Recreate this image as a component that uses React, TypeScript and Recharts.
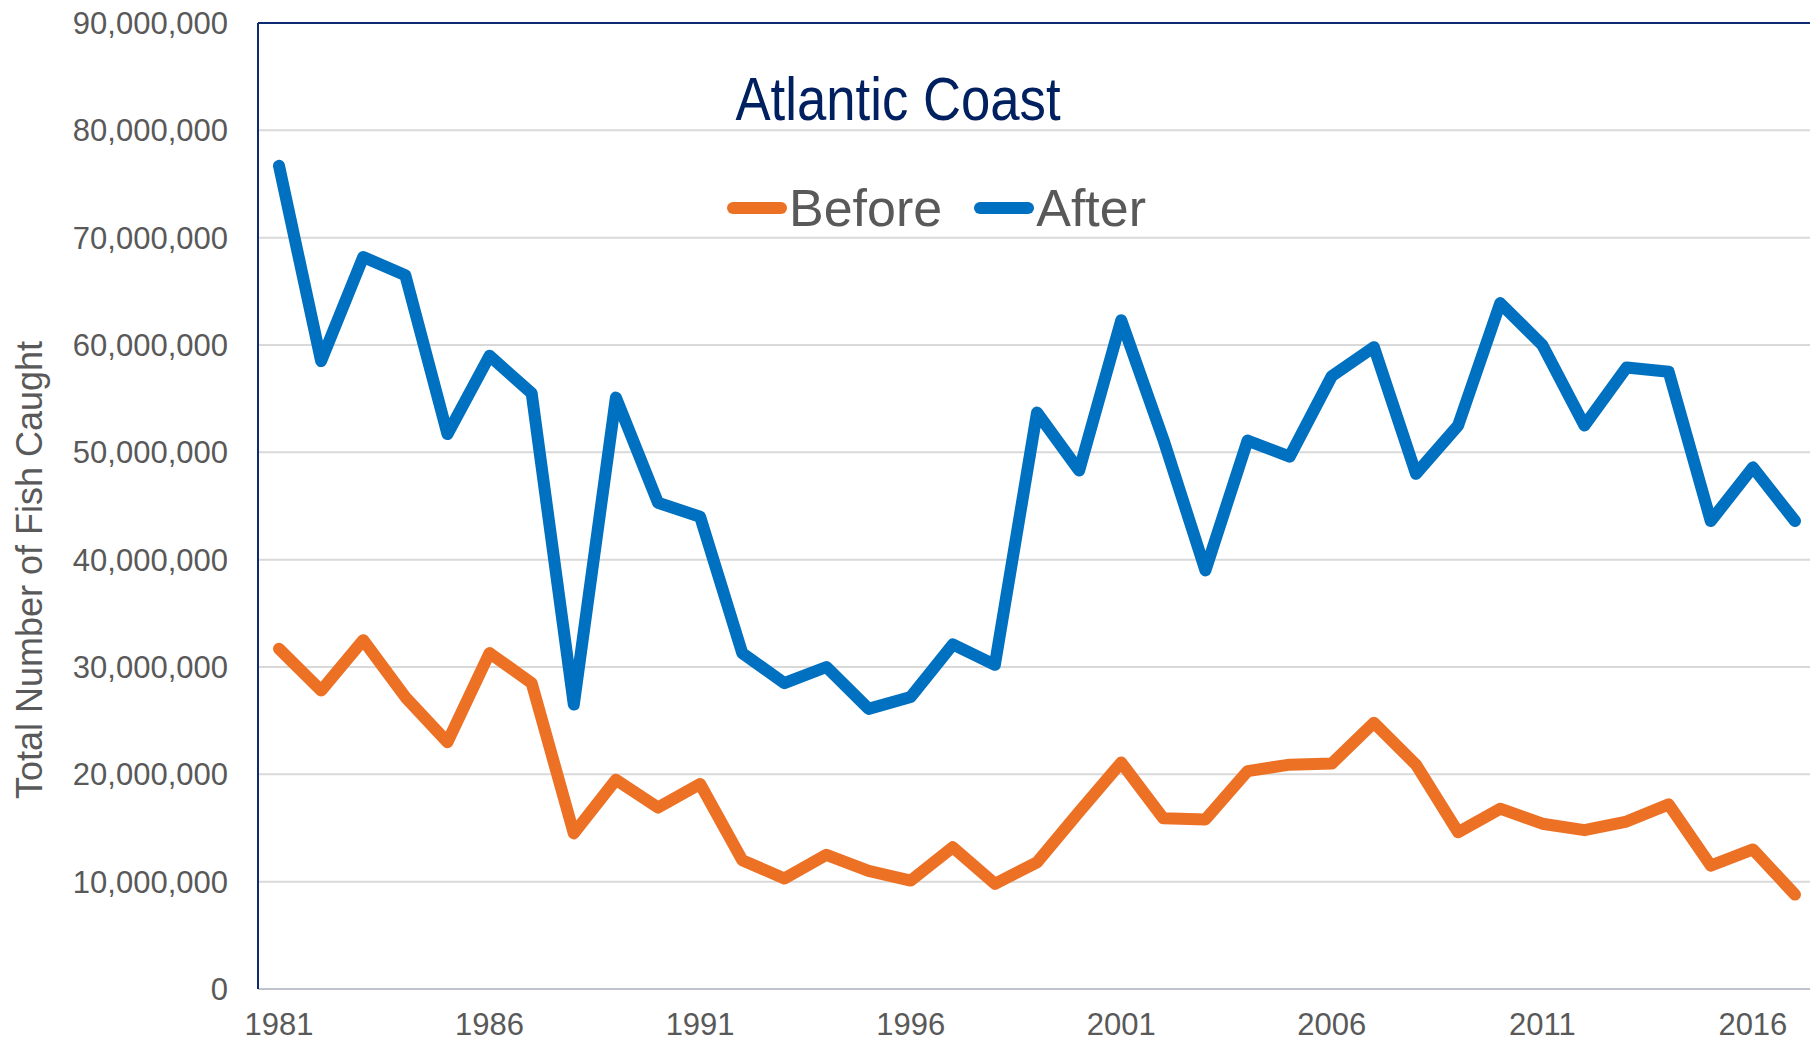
import React from 'react';
import {
  LineChart,
  Line,
  XAxis,
  YAxis,
  CartesianGrid,
  ReferenceLine,
} from 'recharts';

const years = [
  '1981', '1982', '1983', '1984', '1985', '1986', '1987', '1988', '1989', '1990',
  '1991', '1992', '1993', '1994', '1995', '1996', '1997', '1998', '1999', '2000',
  '2001', '2002', '2003', '2004', '2005', '2006', '2007', '2008', '2009', '2010',
  '2011', '2012', '2013', '2014', '2015', '2016', '2017',
];

// millions of fish
const before = [
  31.7, 27.8, 32.5, 27.2, 23.0, 31.3, 28.5, 14.5, 19.5, 16.9,
  19.1, 12.0, 10.3, 12.5, 11.0, 10.1, 13.2, 9.8, 11.8, 16.5,
  21.1, 15.9, 15.8, 20.3, 20.9, 21.0, 24.8, 20.9, 14.6, 16.8,
  15.4, 14.8, 15.6, 17.2, 11.5, 13.0, 8.8,
];

const after = [
  76.7, 58.5, 68.2, 66.5, 51.7, 59.0, 55.5, 26.5, 55.1, 45.3,
  44.0, 31.3, 28.5, 30.0, 26.1, 27.2, 32.1, 30.2, 53.7, 48.3,
  62.3, 51.2, 39.0, 51.1, 49.6, 57.1, 59.8, 48.0, 52.5, 63.9,
  60.0, 52.5, 57.9, 57.5, 43.6, 48.6, 43.6,
];

const xTicks = ['1981', '1986', '1991', '1996', '2001', '2006', '2011', '2016'];
const yTicks = [0, 10, 20, 30, 40, 50, 60, 70, 80, 90].map((m) => m * 1000000);

const data = years.map((year, i) => ({
  year,
  before: before[i] * 1000000,
  after: after[i] * 1000000,
}));

const FONT = '"Liberation Sans", Arial, sans-serif';
const GRAY_TEXT = '#595959';
const NAVY = '#0d2a73';
const ORANGE = '#ed7125';
const BLUE = '#0070c0';

const LegendKey = ({ color }: { color: string }) => (
  <svg width={60} height={14} style={{ marginRight: 2 }}>
    <line x1={6} y1={7} x2={54} y2={7} stroke={color} strokeWidth={12} strokeLinecap="round" />
  </svg>
);

export default function App() {
  return (
    <div
      style={{
        position: 'absolute',
        left: 0,
        top: 0,
        width: 1810,
        height: 1044,
        overflow: 'hidden',
        background: '#fff',
      }}
    >
      <LineChart width={1816} height={1044} data={data} margin={{ top: 23, right: 0, left: 0, bottom: 0 }}>
        <CartesianGrid vertical={false} stroke="#d9d9d9" strokeWidth={2} />
        <XAxis
          dataKey="year"
          ticks={xTicks}
          height={55}
          padding={{ left: 21, right: 21 }}
          tickLine={false}
          tickSize={0}
          tickMargin={24}
          axisLine={{ stroke: '#bfc3cc', strokeWidth: 2 }}
          tick={{ fill: GRAY_TEXT, fontSize: 31, fontFamily: FONT }}
        />
        <YAxis
          width={258}
          domain={[0, 90000000]}
          ticks={yTicks}
          interval={0}
          tickLine={false}
          tickSize={0}
          tickMargin={30}
          axisLine={{ stroke: NAVY, strokeWidth: 2 }}
          tickFormatter={(v: number) => v.toLocaleString('en-US')}
          tick={{ fill: GRAY_TEXT, fontSize: 31, fontFamily: FONT }}
          label={{
            content: () => (
              <text
                x={29}
                y={570}
                transform="rotate(-90 29 570)"
                textAnchor="middle"
                dominantBaseline="central"
                fill={GRAY_TEXT}
                fontSize={36}
                fontFamily={FONT}
              >
                Total Number of Fish Caught
              </text>
            ),
          }}
        />
        <ReferenceLine y={90000000} stroke={NAVY} strokeWidth={2} />
        <Line
          type="linear"
          dataKey="before"
          name="Before"
          stroke={ORANGE}
          strokeWidth={12}
          strokeLinejoin="round"
          strokeLinecap="round"
          dot={false}
          activeDot={false}
          isAnimationActive={false}
        />
        <Line
          type="linear"
          dataKey="after"
          name="After"
          stroke={BLUE}
          strokeWidth={12}
          strokeLinejoin="round"
          strokeLinecap="round"
          dot={false}
          activeDot={false}
          isAnimationActive={false}
        />
      </LineChart>

      {/* title */}
      <div
        style={{
          position: 'absolute',
          left: 898,
          top: 68,
          transform: 'translateX(-50%) scaleX(0.85)',
          fontFamily: '"Liberation Sans Narrow", "Liberation Sans", Arial, sans-serif',
          fontSize: 62,
          color: '#002060',
          whiteSpace: 'nowrap',
          lineHeight: 1,
        }}
      >
        Atlantic Coast
      </div>

      {/* legend */}
      <div
        style={{
          position: 'absolute',
          left: 727,
          top: 182,
          display: 'flex',
          alignItems: 'center',
          fontFamily: FONT,
          fontSize: 52,
          lineHeight: 1,
          color: GRAY_TEXT,
        }}
      >
        <LegendKey color={ORANGE} />
        <span style={{ marginRight: 32 }}>Before</span>
        <LegendKey color={BLUE} />
        <span>After</span>
      </div>
    </div>
  );
}
